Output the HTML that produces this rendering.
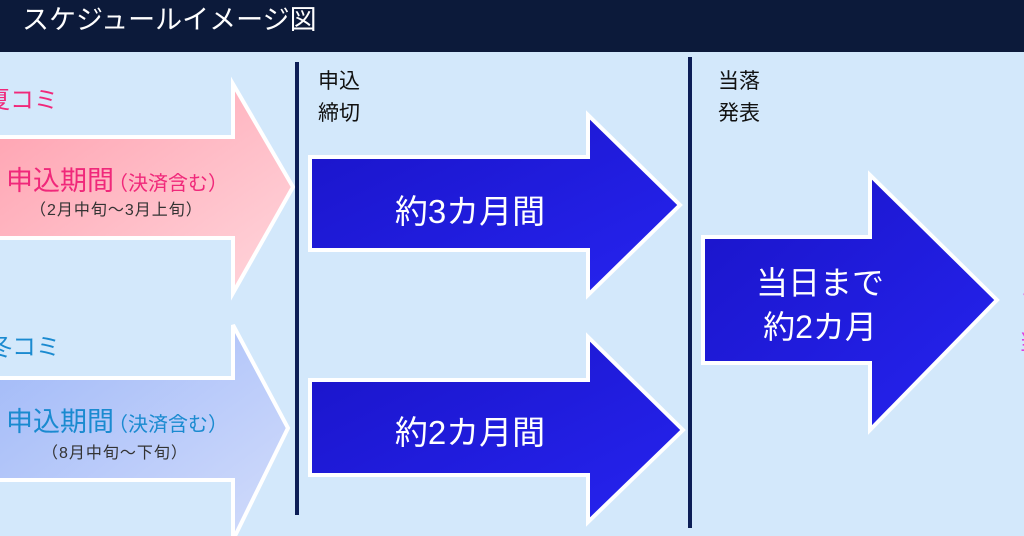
<!DOCTYPE html>
<html><head><meta charset="utf-8"><style>
html,body{margin:0;padding:0;width:1024px;height:536px;overflow:hidden;background:#d3e8fb}
svg{display:block}
text{font-family:"Liberation Sans","Noto Sans CJK JP",sans-serif}
</style></head><body>
<svg width="1024" height="536" viewBox="0 0 1024 536" xmlns="http://www.w3.org/2000/svg">
<defs>
<linearGradient id="pk" x1="0" y1="0" x2="1" y2="1"><stop offset="0" stop-color="#ff9fae"/><stop offset="1" stop-color="#ffd6dc"/></linearGradient>
<linearGradient id="lv" x1="0" y1="0" x2="1" y2="1"><stop offset="0" stop-color="#9fb8f8"/><stop offset="1" stop-color="#d2dcfb"/></linearGradient>
<linearGradient id="bl" x1="0" y1="0" x2="1" y2="1"><stop offset="0" stop-color="#1a14c8"/><stop offset="1" stop-color="#2624f0"/></linearGradient>
</defs>
<rect width="1024" height="536" fill="#d3e8fb"/>
<rect width="1024" height="52" fill="#0c1a3a"/>
<text x="22" y="29" font-size="27" fill="#fff">スケジュールイメージ図</text>

<text x="-14" y="108" font-size="24" fill="#f0287a">夏コミ</text>
<text x="-12" y="355" font-size="24" fill="#1a8ad0">冬コミ</text>

<polygon points="-10,137 233,137 233,84 293,187 233,293 233,238 -10,238" fill="url(#pk)" stroke="#fff" stroke-width="4"/>
<text x="6" y="190" font-size="27" fill="#f0287a">申込期間<tspan font-size="20" dx="-6">（決済含む）</tspan></text>
<text x="30" y="215" font-size="16" fill="#333" letter-spacing="1">（2月中旬～3月上旬）</text>

<polygon points="-10,378 233,378 233,325 288,428 233,540 233,480 -10,480" fill="url(#lv)" stroke="#fff" stroke-width="4"/>
<text x="6" y="431" font-size="27" fill="#1a8ad0">申込期間<tspan font-size="20" dx="-6">（決済含む）</tspan></text>
<text x="42" y="458" font-size="16" fill="#333" letter-spacing="1">（8月中旬～下旬）</text>

<line x1="297" y1="62" x2="297" y2="515" stroke="#0c1e56" stroke-width="4"/>
<line x1="690" y1="57" x2="690" y2="528" stroke="#0c1e56" stroke-width="4"/>
<text x="318" y="88" font-size="21" fill="#111">申込</text>
<text x="318" y="120" font-size="21" fill="#111">締切</text>
<text x="718" y="88" font-size="21" fill="#111">当落</text>
<text x="718" y="120" font-size="21" fill="#111">発表</text>

<polygon points="310,157 588,157 588,115 680,205 588,295 588,250 310,250" fill="url(#bl)" stroke="#fff" stroke-width="4"/>
<text x="470" y="223" font-size="33" fill="#fff" text-anchor="middle">約3カ月間</text>
<polygon points="310,380 588,380 588,337 683,430 588,522 588,475 310,475" fill="url(#bl)" stroke="#fff" stroke-width="4"/>
<text x="470" y="444" font-size="33" fill="#fff" text-anchor="middle">約2カ月間</text>
<polygon points="703,237 870,237 870,175 997,300 870,430 870,363 703,363" fill="url(#bl)" stroke="#fff" stroke-width="4"/>
<text x="820" y="294" font-size="32" fill="#fff" text-anchor="middle">当日まで</text>
<text x="820" y="338" font-size="32" fill="#fff" text-anchor="middle">約2カ月</text>
<text x="1019" y="303" font-size="22" fill="#e040e0">く</text>
<text x="1019" y="350" font-size="22" fill="#e040e0">当</text>
</svg>
</body></html>
